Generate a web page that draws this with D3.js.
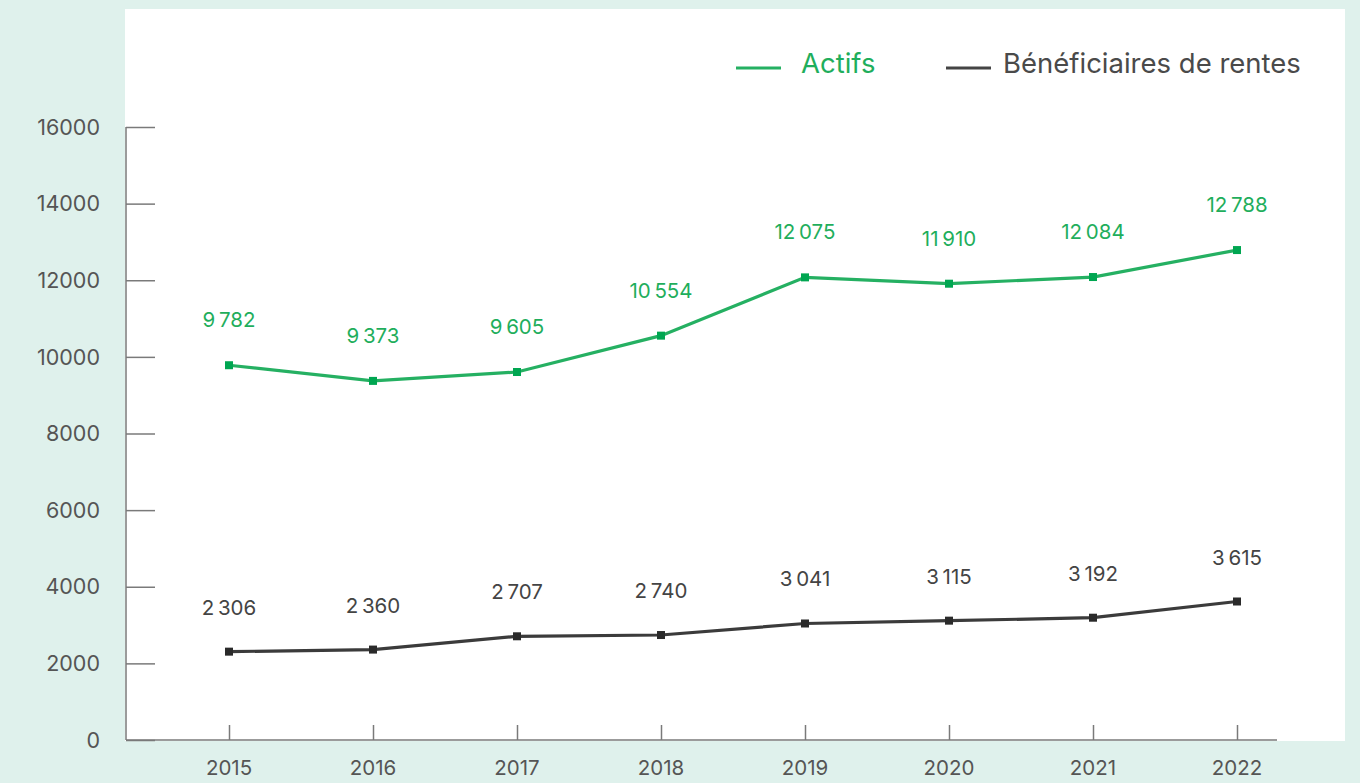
<!DOCTYPE html>
<html><head><meta charset="utf-8">
<script src="https://cdn.jsdelivr.net/npm/d3@7"></script>
<style>
html,body{margin:0;padding:0;background:#dff1ec;}
svg{display:block;}
</style></head>
<body>
<svg id="c" width="1360" height="783"></svg>
<script>
const years = [2015, 2016, 2017, 2018, 2019, 2020, 2021, 2022];
const actifs = [9782, 9373, 9605, 10554, 12075, 11910, 12084, 12788];
const beneficiaires = [2306, 2360, 2707, 2740, 3041, 3115, 3192, 3615];
const yTicks = [0, 2000, 4000, 6000, 8000, 10000, 12000, 14000, 16000];
const seriesNames = ["Actifs", "Bénéficiaires de rentes"];

const font = "Inter, 'Open Sans', sans-serif";
const svg = d3.select("#c");
svg.append("rect").attr("width",1360).attr("height",783).attr("fill","#dff1ec");
svg.append("rect").attr("x",125).attr("y",9).attr("width",1220).attr("height",732).attr("fill","#ffffff");

const x = d3.scalePoint().domain(years).range([229,1237]);
const y = d3.scaleLinear().domain([0,16000]).range([740,127]);

const axisCol = "#7a7a7a";
// y axis
const ya = svg.append("g").attr("transform","translate(126,0)")
  .call(d3.axisRight(y).tickValues(yTicks).tickSize(29).tickFormat(""));
ya.select(".domain").attr("d","M0,127V740").attr("stroke",axisCol).attr("stroke-width",1.5);
ya.selectAll(".tick line").attr("stroke",axisCol).attr("stroke-width",1.5);
svg.append("g").selectAll("text").data(yTicks).join("text")
  .attr("x",100).attr("y",d=>y(d)).attr("dy","0.36em").attr("text-anchor","end")
  .attr("font-family",font).attr("font-size",21.5).attr("fill","#555")
  .text(d=>d);

// x axis
const xa = svg.append("g").attr("transform","translate(0,740)")
  .call(d3.axisTop(x).tickSize(15).tickFormat(""));
xa.select(".domain").attr("d","M126,0H1277").attr("stroke",axisCol).attr("stroke-width",1.5);
xa.selectAll(".tick line").attr("stroke",axisCol).attr("stroke-width",1.5);
svg.append("g").selectAll("text").data(years).join("text")
  .attr("x",d=>x(d)).attr("y",768).attr("dy","0.36em").attr("text-anchor","middle")
  .attr("font-family",font).attr("font-size",20.5).attr("fill","#555")
  .text(d=>d);

const fmt = v => { const s = String(v); return s.length>3 ? s.slice(0,s.length-3)+"\u2009"+s.slice(-3) : s; };

function drawSeries(vals, lineCol, markCol, labCol, off){
  const pts = years.map((yr,i)=>[yr, vals[i]]);
  svg.append("path").datum(pts)
    .attr("d", d3.line().x(d=>x(d[0])).y(d=>y(d[1])))
    .attr("fill","none").attr("stroke",lineCol).attr("stroke-width",3.2);
  svg.append("g").selectAll("rect").data(pts).join("rect")
    .attr("x",d=>x(d[0])-4).attr("y",d=>y(d[1])-4).attr("width",8).attr("height",8)
    .attr("fill",markCol);
  svg.append("g").selectAll("text").data(pts).join("text")
    .attr("x",d=>x(d[0])).attr("y",d=>y(d[1])-off).attr("text-anchor","middle")
    .attr("font-family",font).attr("font-size",20.5).attr("fill",labCol)
    .text(d=>fmt(d[1]));
}
drawSeries(actifs, "#25b062", "#00a651", "#1fae5c", 38);
drawSeries(beneficiaires, "#3b3b3b", "#2a2a2a", "#444", 37);

// legend
const leg = svg.append("g");
leg.append("line").attr("x1",736).attr("x2",781).attr("y1",68).attr("y2",68).attr("stroke","#25b062").attr("stroke-width",3);
leg.append("text").attr("x",801).attr("y",63).attr("dy","0.35em").attr("font-family",font).attr("font-size",27.5).attr("fill","#1fae5c").text(seriesNames[0]);
leg.append("line").attr("x1",946).attr("x2",991).attr("y1",68).attr("y2",68).attr("stroke","#444").attr("stroke-width",3);
leg.append("text").attr("x",1003).attr("y",63).attr("dy","0.35em").attr("font-family",font).attr("font-size",27.5).attr("fill","#4a4a4a").text(seriesNames[1]);
</script>
</body></html>
